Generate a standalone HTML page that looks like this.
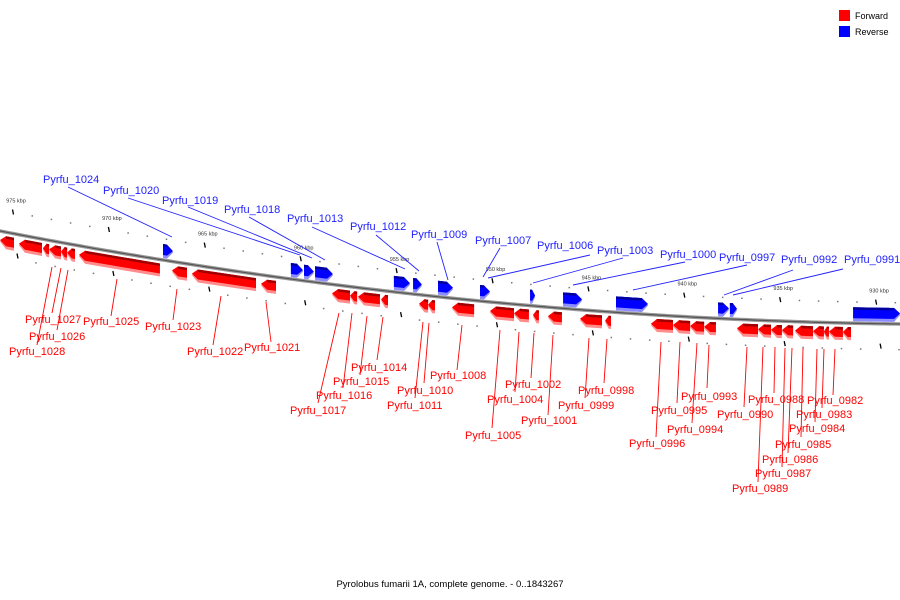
<!DOCTYPE html>
<html><head><meta charset="utf-8"><style>
html,body{margin:0;padding:0;background:#fff;}
svg{display:block;font-family:"Liberation Sans",sans-serif;}
</style></head><body>
<svg id="chart" width="900" height="600" viewBox="0 0 900 600" xmlns="http://www.w3.org/2000/svg">
<g id="ticks"></g>
<g id="genes"></g>
<g id="labels"></g>
<g>
<rect x="839" y="10" width="11" height="11" fill="#ff0000"/>
<text x="855" y="19" font-size="9" fill="#000">Forward</text>
<rect x="839" y="26" width="11" height="11" fill="#0000ff"/>
<text x="855" y="35" font-size="9" fill="#000">Reverse</text>
</g>
<text x="450" y="587" font-size="9.5" text-anchor="middle" fill="#000">Pyrolobus fumarii 1A, complete genome. - 0..1843267</text>
</svg>
<script>
// gene coordinates in kbp
const fwdStart=[975.68,974.69,973.44,973.12,972.50,972.18,971.56,966.71,965.67,962.07,958.37,957.43,957.01,955.81,953.83,953.36,952.11,950.13,948.88,947.89,947.11,945.44,944.13,941.74,940.59,939.70,938.97,937.25,936.16,935.48,934.91,934.23,933.29,932.72,932.46,931.73];
const fwdEnd=[974.95,973.49,973.12,972.50,972.18,971.77,967.34,965.93,962.33,961.29,957.43,957.06,955.87,955.45,953.36,953.00,950.96,948.88,948.10,947.58,946.38,944.29,943.82,940.59,939.70,938.97,938.35,936.16,935.48,934.91,934.33,933.29,932.72,932.46,931.73,931.31];
const revStart=[967.18,960.51,959.83,959.25,955.14,954.14,952.84,950.65,948.04,946.32,943.56,938.24,937.62,931.20];
const revEnd=[966.66,959.88,959.31,958.32,954.30,953.68,952.06,950.13,947.78,945.33,941.89,937.67,937.25,928.75];
const tickKbp=[975,970,965,960,955,950,945,940,935,930];
const tickLabels=["975 kbp","970 kbp","965 kbp","960 kbp","955 kbp","950 kbp","945 kbp","940 kbp","935 kbp","930 kbp"];
// label layout: name, textX, textY, line points
const revLabels=[["Pyrfu_1024",43,179,68,187,172,237],["Pyrfu_1020",103,190,128,198,300,255],["Pyrfu_1019",162,200,188,207,312,258],["Pyrfu_1018",224,209,249,217,325,260],["Pyrfu_1013",287,218,312,227,405,269],["Pyrfu_1012",350,226,376,235,419,271],["Pyrfu_1009",411,234,437,242,448,280],["Pyrfu_1007",475,240,500,248,483,277],["Pyrfu_1006",537,245,590,255,488,278],["Pyrfu_1003",597,250,623,258,533,283],["Pyrfu_1000",660,254,685,262,573,285],["Pyrfu_0997",719,257,747,265,633,290],["Pyrfu_0992",781,259,793,270,724,295],["Pyrfu_0991",844,259,843,269,733,295]];
const fwdLabels=[["Pyrfu_1027",25,319,61,268,52,313],["Pyrfu_1026",29,336,68,270,57,330],["Pyrfu_1028",9,351,52,267,37,345],["Pyrfu_1025",83,321,117,279,111,316],["Pyrfu_1023",145,326,177,289,173,320],["Pyrfu_1022",187,351,221,296,213,345],["Pyrfu_1021",244,347,266,302,271,342],["Pyrfu_1017",290,410,339,313,318,403],["Pyrfu_1016",316,395,352,313,343,388],["Pyrfu_1015",333,381,367,316,360,375],["Pyrfu_1014",351,367,383,317,377,360],["Pyrfu_1010",397,390,429,323,424,383],["Pyrfu_1011",387,405,423,322,415,398],["Pyrfu_1008",430,375,462,325,457,370],["Pyrfu_1005",465,435,500,330,492,428],["Pyrfu_1004",487,399,519,332,515,392],["Pyrfu_1002",505,384,534,333,531,378],["Pyrfu_1001",521,420,553,335,548,415],["Pyrfu_0999",558,405,589,338,585,398],["Pyrfu_0998",578,390,607,339,604,383],["Pyrfu_0996",629,443,661,342,656,437],["Pyrfu_0995",651,410,680,342,677,403],["Pyrfu_0994",667,429,697,343,692,423],["Pyrfu_0993",681,396,709,345,707,388],["Pyrfu_0990",717,414,747,347,744,407],["Pyrfu_0989",732,488,763,347,758,482],["Pyrfu_0988",748,399,775,347,774,393],["Pyrfu_0987",755,473,785,348,782,467],["Pyrfu_0986",762,459,792,348,788,453],["Pyrfu_0985",775,444,803,348,801,437],["Pyrfu_0984",789,428,817,349,815,422],["Pyrfu_0983",796,414,824,349,822,408],["Pyrfu_0982",807,400,835,349,833,395]];

const NS="http://www.w3.org/2000/svg";
function X(k){return 13+(975-k)*19.18;}
function Y(x){return 231+0.1944*x-1.012e-4*x*x;}
function mk(tag,attrs,parent){const e=document.createElementNS(NS,tag);for(const a in attrs)e.setAttribute(a,attrs[a]);parent.appendChild(e);return e;}
const gT=document.getElementById('ticks'),gG=document.getElementById('genes'),gL=document.getElementById('labels'),svg=document.getElementById('chart');

// backbone
let pts=[];for(let x=-5;x<=905;x+=5)pts.push(x+','+Y(x).toFixed(2));
const bb=mk('polyline',{points:pts.join(' '),fill:'none',stroke:'#999',"stroke-width":3.5},gT);


const bb2=mk('polyline',{points:pts.join(' '),fill:'none',stroke:'#555',"stroke-width":1.2},gT);



// minor dots
for(let k=976;k>=928;k--){
  const x=X(k); if(x<-5||x>905)continue;
  if(k%5!==0){
    const d=mk('rect',{x:x-0.7,y:Y(x)-22,width:1.5,height:1.5,fill:'#777'},gT);
    
    
    const d2=mk('rect',{x:x+3,y:Y(x)+25,width:1.5,height:1.5,fill:'#777'},gT);
    
    
  }
}
tickKbp.forEach((k,i)=>{
  const x=X(k),y=Y(x);
  const t=mk('line',{x1:x-0.5,y1:y-24,x2:x+0.5,y2:y-19,stroke:'#000',"stroke-width":1.3},gT);
  
  
  const t2=mk('line',{x1:x+4,y1:y+20,x2:x+5,y2:y+25,stroke:'#000',"stroke-width":1.3},gT);
  
  
  const l=mk('text',{x:x+3,y:y-31,"font-size":5.5,"text-anchor":"middle",fill:'#333'},gT);
  l.textContent=tickLabels[i];
  
  
});

function gene(a,b,fwd){
  const x1=X(a),x2=X(b),len=x2-x1;
  const hw=Math.min(6,len*0.6);
  const off=fwd?4:-16,h=fwd?13:14;
  const g=mk('g',{},gG);
  
  
  function shape(hh){
    let p;
    if(fwd){
      const xa=x1,xb=x1+hw;
      p=[[xa,Y(xa)+off+hh/2],[xb,Y(xb)+off],[x2,Y(x2)+off],[x2,Y(x2)+off+hh],[xb,Y(xb)+off+hh]];
    }else{
      const xb=x2-hw;
      p=[[x1,Y(x1)+off],[xb,Y(xb)+off],[x2,Y(x2)+off+hh/2],[xb,Y(xb)+off+hh],[x1,Y(x1)+off+hh]];
    }
    return p.map(q=>q[0].toFixed(1)+','+q[1].toFixed(1)).join(' ');
  }
  const c=fwd?['#ff8c8c','#ff0000','#a00000']:['#8c8cff','#0000ff','#00009a'];
  mk('polygon',{points:shape(h),fill:c[0]},g);
  mk('polygon',{points:shape(h-3),fill:c[1]},g);
  const xs=fwd?x1+hw:x1,xe=fwd?x2:x2-hw;
  mk('polygon',{points:[[xs,Y(xs)+off],[xe,Y(xe)+off],[xe,Y(xe)+off+2.5],[xs,Y(xs)+off+2.5]].map(q=>q[0].toFixed(1)+','+q[1].toFixed(1)).join(' '),fill:c[2]},g);
}
fwdStart.forEach((s,i)=>gene(s,fwdEnd[i],true));
revStart.forEach((s,i)=>gene(s,revEnd[i],false));

function label(L,color,fwd){
  const ln=mk('line',{x1:L[3],y1:L[4],x2:L[5],y2:L[6],stroke:color,"stroke-width":0.9},gL);
  
  
  const t=mk('text',{x:L[1],y:L[2]+4,"font-size":11,fill:color},gL);
  t.textContent=L[0];
  
  
}
revLabels.forEach(L=>label(L,'#2222ff',false));
fwdLabels.forEach(L=>label(L,'#ff0000',true));
</script>
</body></html>
